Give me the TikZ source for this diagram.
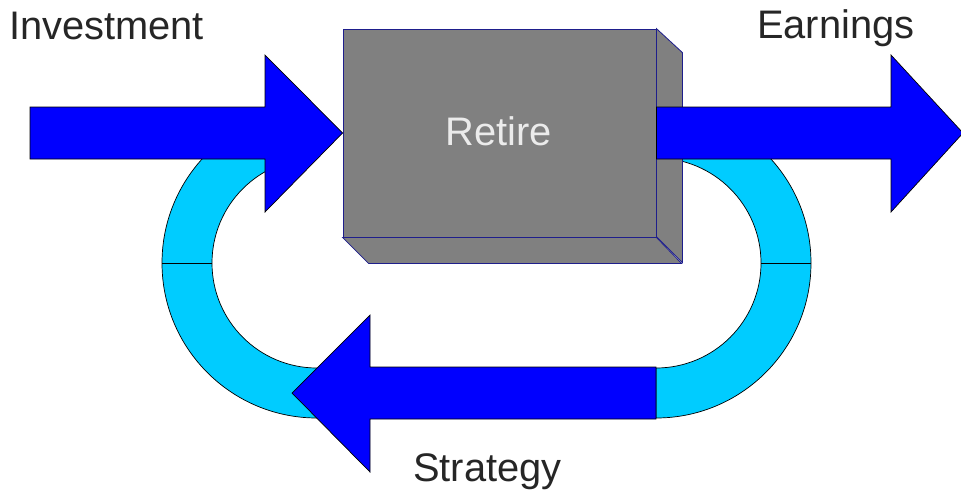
\documentclass[tikz,border=0pt]{standalone}
\usepackage{fontspec}
\setmainfont{Liberation Sans}
\definecolor{arrowblue}{RGB}{0,0,255}
\definecolor{loopcyan}{RGB}{0,204,255}
\definecolor{boxgray}{RGB}{128,128,128}
\definecolor{boxedge}{RGB}{30,30,140}
\usetikzlibrary{calc}

\begin{document}
\begin{tikzpicture}[x=0.03cm, y=-0.03cm, every node/.style={font=\fontsize{34}{40}\selectfont, inner sep=0pt},
  fat/.style={fill=arrowblue, draw=black, line width=0.6pt, line join=miter},
  ring/.style={fill=loopcyan, draw=black, line width=0.6pt},
  face/.style={fill=boxgray, draw=boxedge, line width=0.7pt}]
\useasboundingbox (0,0) rectangle (961,493);
% Loops
\draw[ring] (317,108) arc[start angle=270, end angle=90, radius=155] -- (317,368)
  arc[start angle=90, end angle=270, radius=105] -- cycle;
\draw[ring] (656,108) arc[start angle=270, end angle=450, radius=155] -- (656,368)
  arc[start angle=90, end angle=-90, radius=105] -- cycle;
\draw[line width=0.6pt] (162,263) -- (212,263);
\draw[line width=0.6pt] (761,263) -- (811,263);
% Retire box
\node[face, minimum width=9.39cm, minimum height=6.24cm] (retire) at (499.5,133) {};
\draw[face] (retire.north east) -- ++(26,24) -- ++(0,210) -- ++(-26,-26) -- cycle;
\draw[face] (retire.south west) -- ++(26,26) -- ++(313,0) -- (retire.south east) -- cycle;
\node[text=black!8, anchor=base] (retiretext) at (499,145) {Retire};
% Arrows
\draw[fat] (30,107) -- (265,107) -- (265,55) -- (retire.west) -- (265,212) -- (265,159) -- (30,159) -- cycle;
\draw[fat] (retire.east |- 0,107) -- (891,107) -- (891,55) -- (963,133) -- (891,212) -- (891,159) -- (retire.east |- 0,159) -- cycle;
\draw[fat] (656,367) -- (370,367) -- (370,315) -- (292,393) -- (370,472) -- (370,419) -- (656,419) -- cycle;
% Labels
\node[anchor=base west, text=black!85] (invlabel) at (9,39) {Investment};
\node[anchor=base west, text=black!85] (earnlabel) at (757,38) {Earnings};
\node[anchor=base west, text=black!85] (stratlabel) at (413,481) {Strategy};
\end{tikzpicture}
\end{document}
